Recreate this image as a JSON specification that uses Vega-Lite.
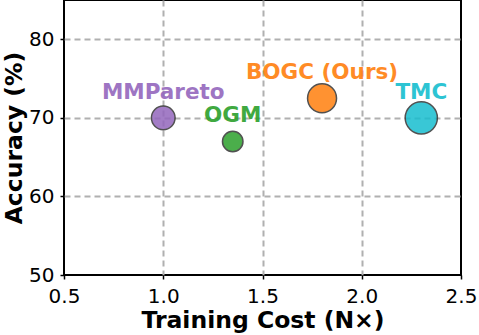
{
  "$schema": "https://vega.github.io/schema/vega-lite/v6.json",
  "width": 397,
  "height": 275,
  "autosize": {"type": "none"},
  "padding": {"left": 64, "top": 0, "right": 18, "bottom": 60},
  "background": "white",
  "config": {
    "font": "DejaVu Sans",
    "view": {"stroke": "black", "strokeWidth": 2},
    "axis": {
      "labelFont": "DejaVu Sans",
      "labelFontSize": 20,
      "labelColor": "black",
      "titleFont": "DejaVu Sans",
      "titleFontSize": 23.5,
      "titleFontWeight": "bold",
      "titleColor": "black",
      "domain": false,
      "tickColor": "black",
      "tickWidth": 1.5,
      "tickSize": 4,
      "gridColor": "#b0b0b0",
      "gridWidth": 2,
      "gridDash": [6, 4]
    }
  },
  "data": {
    "values": [
      {"method": "MMPareto", "cost": 1.0, "acc": 70.0, "memory": 1.0},
      {"method": "OGM", "cost": 1.35, "acc": 67.0, "memory": 0.75},
      {"method": "BOGC (Ours)", "cost": 1.8, "acc": 72.5, "memory": 1.5},
      {"method": "TMC", "cost": 2.3, "acc": 70.0, "memory": 1.85}
    ]
  },
  "encoding": {
    "x": {
      "field": "cost", "type": "quantitative",
      "scale": {"domain": [0.5, 2.5], "nice": false, "zero": false},
      "axis": {"values": [0.5, 1.0, 1.5, 2.0, 2.5], "format": ".1f", "title": "Training Cost (N×)", "labelPadding": 7, "titlePadding": 2, "labelFlush": false,
        "gridOpacity": {"condition": {"test": "datum.value <= 0.5 || datum.value >= 2.5", "value": 0}, "value": 1}}
    },
    "y": {
      "field": "acc", "type": "quantitative",
      "scale": {"domain": [50, 85], "nice": false, "zero": false},
      "axis": {"values": [50, 60, 70, 80], "title": "Accuracy (%)", "labelPadding": 6, "titlePadding": 2, "labelFlush": false,
        "gridOpacity": {"condition": {"test": "datum.value <= 50", "value": 0}, "value": 1}}
    },
    "color": {
      "field": "method", "type": "nominal",
      "scale": {"domain": ["MMPareto", "OGM", "BOGC (Ours)", "TMC"], "range": ["#9467bd", "#2ca02c", "#ff7f0e", "#17becf"]},
      "legend": null
    }
  },
  "layer": [
    {
      "mark": {"type": "circle", "opacity": 0.85, "stroke": "#333333", "strokeWidth": 1.5, "strokeOpacity": 1},
      "encoding": {
        "size": {"field": "memory", "type": "quantitative", "scale": {"domain": [0, 2], "range": [0, 1120]}, "legend": null}
      }
    },
    {
      "mark": {"type": "text", "dy": -25, "baseline": "middle", "align": "center", "fontSize": 21.5, "fontWeight": "bold", "font": "DejaVu Sans", "opacity": 0.9},
      "encoding": {"text": {"field": "method"}}
    }
  ]
}
